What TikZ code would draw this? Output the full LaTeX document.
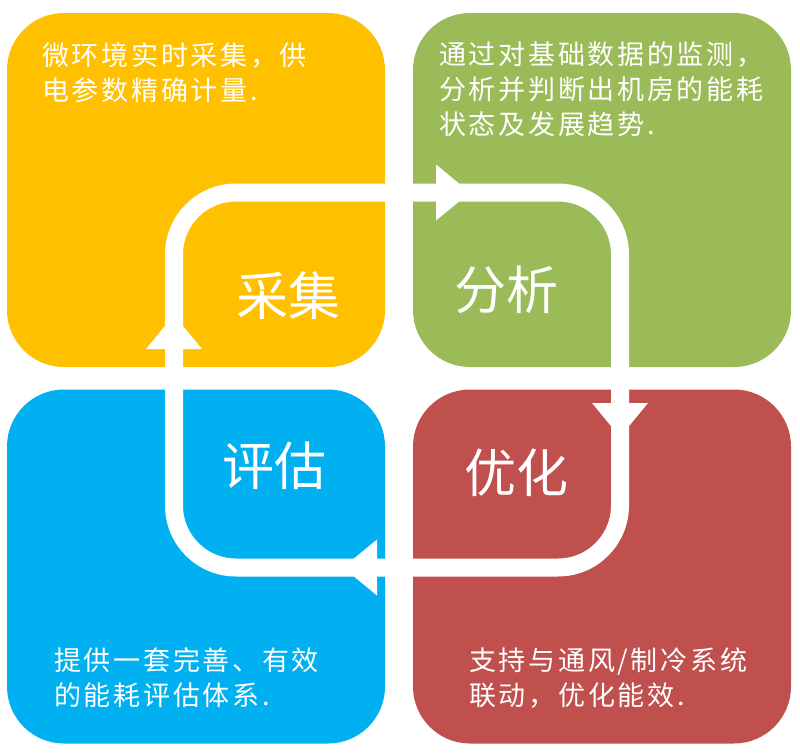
\documentclass[tikz,border=0pt]{standalone}
\usepackage{fontspec}
\newfontfamily\cjk{Noto Sans CJK SC}
\newfontfamily\cjksp[LetterSpace=10]{Noto Sans CJK SC}
\definecolor{cOrange}{HTML}{FFC000}
\definecolor{cGreen}{HTML}{9BBB59}
\definecolor{cBlue}{HTML}{00B0F0}
\definecolor{cRed}{HTML}{C0504D}
\begin{document}
\begin{tikzpicture}[x=1pt,y=-1pt,
  quad/.style={rounded corners=57pt, minimum width=378pt, minimum height=354pt, inner sep=0pt, draw=none},
  title/.style={text=white, font=\cjk\fontsize{52}{60}\selectfont, inner sep=0pt},
  desc/.style={text=white, font=\cjksp\fontsize{27}{35}\selectfont, align=left, anchor=north west, inner sep=0pt},
  loopline/.style={draw=white, line width=18pt, rounded corners=62pt},
  tiphead/.style={fill=white, draw=none}]
\useasboundingbox (0,0) rectangle (800,753);
\fill[white] (0,0) rectangle (800,753);
% quadrants
\node[quad, fill=cOrange] (q1) at (196,190) {};
\node[quad, fill=cGreen]  (q2) at (602,190) {};
\node[quad, fill=cBlue]   (q3) at (196,566.5) {};
\node[quad, fill=cRed]    (q4) at (602,566.5) {};
% loop
\draw[loopline] (174,192.5) rectangle (620,567.5);
\fill[tiphead] (436,164.5) -- (470,192.5) -- (436,220.5) -- cycle;
\fill[tiphead] (592,403) -- (620,437) -- (648,403) -- cycle;
\fill[tiphead] (377,539.5) -- (343,567.5) -- (377,595.5) -- cycle;
\fill[tiphead] (146,349) -- (174,315) -- (202,349) -- cycle;
% titles
\node[title] (t1) at (288,296) {采集};
\node[title] (t2) at (506,290) {分析};
\node[title] (t3) at (274,466) {评估};
\node[title] (t4) at (516,473) {优化};
% descriptions
\node[desc] (d1) at (42,42) {微环境实时采集，供\\电参数精确计量.};
\node[desc] (d2) at (439,42) {通过对基础数据的监测，\\分析并判断出机房的能耗\\状态及发展趋势.};
\node[desc] (d3) at (54,647) {提供一套完善、有效\\的能耗评估体系.};
\node[desc] (d4) at (469,647) {支持与通风/制冷系统\\联动，优化能效.};
\end{tikzpicture}
\end{document}
